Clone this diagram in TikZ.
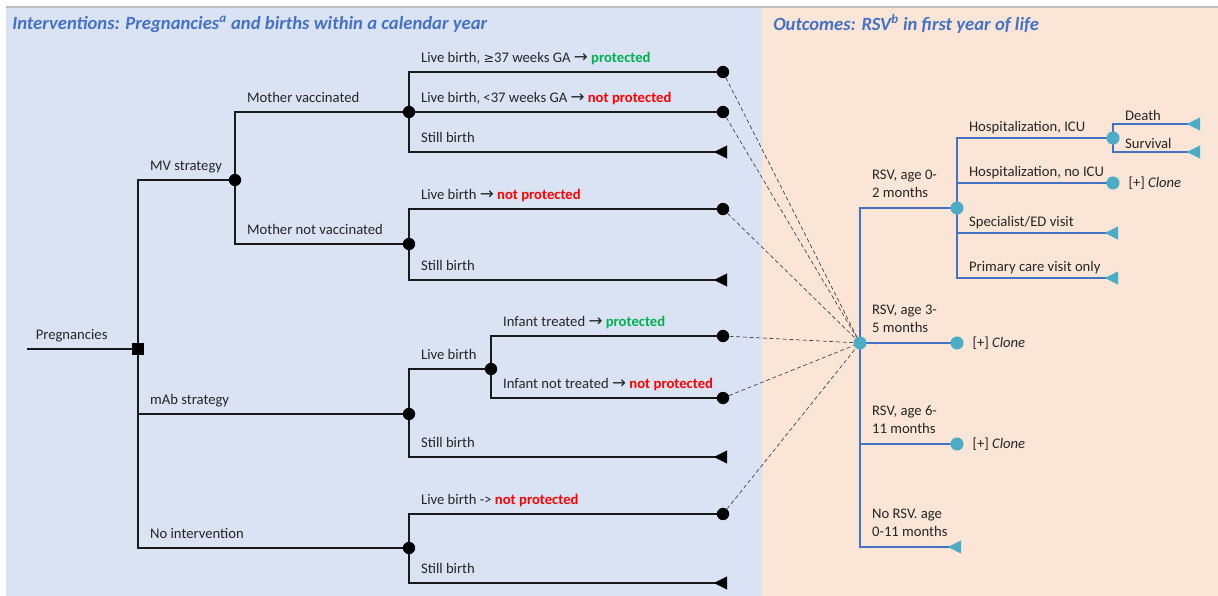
\documentclass[tikz,border=0pt]{standalone}
\usepackage{fontspec}
\setmainfont{Carlito}
\newfontfamily\symfont{DejaVu Sans}
\usepackage{xcolor}
\usepackage{tikz}
\usetikzlibrary{positioning, shapes.geometric, backgrounds}
\definecolor{panelblue}{HTML}{DAE3F3}
\definecolor{panelpeach}{HTML}{FBE5D6}
\definecolor{titleblue}{HTML}{4472C4}
\definecolor{nodeteal}{HTML}{4BACC6}
\definecolor{protgreen}{HTML}{00B050}
\definecolor{protred}{HTML}{FF0000}
\definecolor{labeltext}{HTML}{262626}
\newcommand{\toarrow}{{\symfont\fontsize{12.5}{11}\selectfont →}}
\newcommand{\atleast}{{\symfont\fontsize{9.5}{11}\selectfont ≥}}
\newcommand{\prot}{\textcolor{protgreen}{\textbf{protected}}}
\newcommand{\notprot}{\textcolor{protred}{\textbf{not protected}}}

\tikzset{
  chance/.style={circle, fill=black, inner sep=0pt, minimum size=9.3pt},
  decision/.style={rectangle, fill=black, inner sep=0pt, minimum size=9.3pt},
  endpt/.style={isosceles triangle, shape border rotate=180, isosceles triangle stretches,
    fill=black, inner sep=0pt, minimum height=9.8pt, minimum width=9.8pt},
  tchance/.style={chance, fill=nodeteal, minimum size=9.8pt},
  tendpt/.style={endpt, fill=nodeteal},
  branch/.style={line width=1.15pt, black!90},
  tbranch/.style={line width=1.15pt, titleblue},
  link/.style={densely dashed, line width=0.5pt, black!75},
  lbl/.style={anchor=base west, inner sep=0pt, text=labeltext, xshift=8.5pt, yshift=#1},
  lbl/.default=7.5pt,
  lbltwo/.style={anchor=south west, align=left, inner sep=0pt, text=labeltext, xshift=8.5pt, yshift=7.5pt},
  clone/.style={right=3pt of #1, text=labeltext},
  title/.style={anchor=west, inner sep=0pt, text=titleblue,
    font=\fontsize{14}{17}\selectfont\bfseries\itshape},
}

\begin{document}
\begin{tikzpicture}[x=0.75pt, y=-0.75pt, font=\fontsize{11}{13}\selectfont]
  \useasboundingbox (0,0) rectangle (1218,596);

  % panels
  \begin{scope}[on background layer]
    \fill[panelblue] (6,7) rectangle (762,596);
    \fill[panelpeach] (762,7) rectangle (1218,596);
    \draw[black!25, line width=0.8pt] (6,7) -- (1218,7);
  \end{scope}

  \node[title] (intitle) at (12,24) {Interventions: Pregnancies\textsuperscript{a} and births within a calendar year};
  \node[title] (outtitle) at (773,24) {Outcomes: RSV\textsuperscript{b} in first year of life};

  % interventions tree
  \coordinate (start) at (27,349);
  \node[decision] (root) at (138,349) {};
  \node[chance] (mv) at (235,180) {};
  \node[chance] (mab) at (409,414) {};
  \node[chance] (noint) at (409,548) {};
  \node[chance] (mvyes) at (409,112) {};
  \node[chance] (mvno) at (409,244) {};
  \node[chance] (vacterm) at (723,72) {};
  \node[chance] (vacpre) at (723,112) {};
  \node[endpt] (vacstill) at (723,152) {};
  \node[chance] (novlive) at (723,209) {};
  \node[endpt] (novstill) at (723,280) {};
  \node[chance] (mablive) at (491,369) {};
  \node[endpt] (mabstill) at (723,457) {};
  \node[chance] (treated) at (723,336) {};
  \node[chance] (untreated) at (723,398) {};
  \node[chance] (nilive) at (723,514) {};
  \node[endpt] (nistill) at (723,583) {};

  % outcomes tree
  \node[tchance] (rsv) at (860,343) {};
  \node[tchance] (r02) at (957,208) {};
  \node[tchance] (r35) at (957,343) {};
  \node[tchance] (r611) at (957,444) {};
  \node[tendpt] (rnone) at (957,547) {};
  \node[tchance] (icu) at (1113,138) {};
  \node[tchance] (noicu) at (1113,183) {};
  \node[tendpt] (spec) at (1114,233) {};
  \node[tendpt] (prim) at (1114,278) {};
  \node[tendpt] (death) at (1196,124) {};
  \node[tendpt] (surv) at (1196,152) {};
  \node[clone=r35] (cl35) {[+] \textit{Clone}};
  \node[clone=r611] (cl611) {[+] \textit{Clone}};
  \node[clone=noicu] (clicu) {[+] \textit{Clone}};

  \begin{scope}[on background layer]
    \draw[branch] (start) -- node[lbl, pos=0, xshift=-2.5pt] (lpreg) {Pregnancies} (root.center);
    \draw[branch] (root.center) |- node[lbl] (lmv) {MV strategy} (mv.center);
    \draw[branch] (root.center) |- node[lbl] (lmab) {mAb strategy} (mab.center);
    \draw[branch] (root.center) |- node[lbl] (lnoint) {No intervention} (noint.center);
    \draw[branch] (mv.center) |- node[lbl] (lmvyes) {Mother vaccinated} (mvyes.center);
    \draw[branch] (mv.center) |- node[lbl] (lmvno) {Mother not vaccinated} (mvno.center);
    \draw[branch] (mvyes.center) |- node[lbl] (lterm) {Live birth, \atleast37 weeks GA \toarrow{} \prot} (vacterm.center);
    \draw[branch] (mvyes.center) |- node[lbl] (lpre) {Live birth, <37 weeks GA \toarrow{} \notprot} (vacpre.center);
    \draw[branch] (mvyes.center) |- node[lbl] (lvstill) {Still birth} (vacstill.center);
    \draw[branch] (mvno.center) |- node[lbl] (lnlive) {Live birth \toarrow{} \notprot} (novlive.center);
    \draw[branch] (mvno.center) |- node[lbl] (lnstill) {Still birth} (novstill.center);
    \draw[branch] (mab.center) |- node[lbl] (lmlive) {Live birth} (mablive.center);
    \draw[branch] (mab.center) |- node[lbl] (lmstill) {Still birth} (mabstill.center);
    \draw[branch] (mablive.center) |- node[lbl] (ltreat) {Infant treated \toarrow{} \prot} (treated.center);
    \draw[branch] (mablive.center) |- node[lbl] (luntreat) {Infant not treated \toarrow{} \notprot} (untreated.center);
    \draw[branch] (noint.center) |- node[lbl] (lilive) {Live birth -> \notprot} (nilive.center);
    \draw[branch] (noint.center) |- node[lbl] (listill) {Still birth} (nistill.center);

    \draw[tbranch] (rsv.center) |- node[lbltwo] (l02) {RSV, age 0-\\2 months} (r02.center);
    \draw[tbranch] (rsv.center) |- node[lbltwo] (l35) {RSV, age 3-\\5 months} (r35.center);
    \draw[tbranch] (rsv.center) |- node[lbltwo] (l611) {RSV, age 6-\\11 months} (r611.center);
    \draw[tbranch] (rsv.center) |- node[lbltwo] (lnone) {No RSV. age\\0-11 months} (rnone.center);
    \draw[tbranch] (r02.center) |- node[lbl=5pt] (licu) {Hospitalization, ICU} (icu.center);
    \draw[tbranch] (r02.center) |- node[lbl=5pt] (lnoicu) {Hospitalization, no ICU} (noicu.center);
    \draw[tbranch] (r02.center) |- node[lbl=5pt] (lspec) {Specialist/ED visit} (spec.center);
    \draw[tbranch] (r02.center) |- node[lbl=5pt] (lprim) {Primary care visit only} (prim.center);
    \draw[tbranch] (icu.center) |- node[lbl=3pt] (ldeath) {Death} (death.center);
    \draw[tbranch] (icu.center) |- node[lbl=3pt] (lsurv) {Survival} (surv.center);
  \end{scope}

  % links into the outcomes tree
  \foreach \leaf in {vacterm, vacpre, novlive, treated, untreated, nilive}
    \draw[link] (\leaf) -- (rsv);
\end{tikzpicture}
\end{document}
